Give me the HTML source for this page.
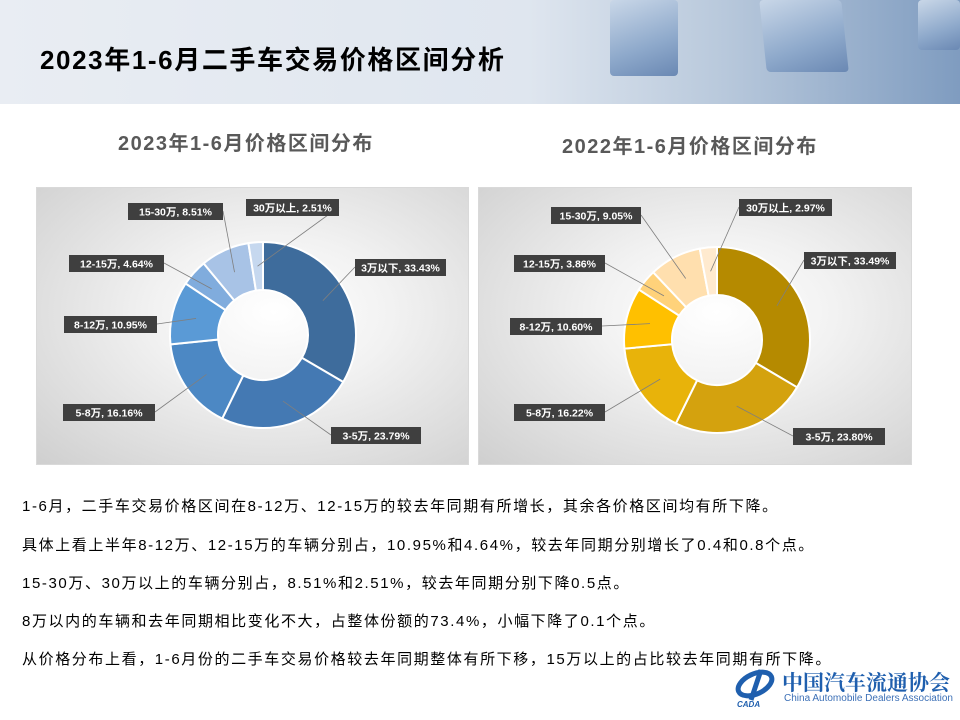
<!DOCTYPE html>
<html><head><meta charset="utf-8"><style>
body{margin:0;width:960px;height:720px;overflow:hidden;background:#fff;font-family:"Liberation Sans","Noto Sans CJK SC",sans-serif;position:relative}
.hdr{position:absolute;left:0;top:0;width:960px;height:104px;background:linear-gradient(90deg,#e9edf3 0%,#dfe6ef 55%,#b9c9dc 75%,#7f9cc0 100%)}
.cube{position:absolute;background:linear-gradient(160deg,#c9d7e8,#8ea9cb 60%,#6a88b3);border-radius:4px}
.h1{position:absolute;left:40px;top:40px;font-size:26px;letter-spacing:1.6px;font-weight:bold;color:#000}
.t{position:absolute;font-size:20px;letter-spacing:1.5px;font-weight:bold;color:#595959}
.p{position:absolute;left:22px;font-size:15px;letter-spacing:1.6px;color:#000}
.box{position:absolute;border:1px solid #d9d9d9;background:radial-gradient(ellipse at 55% 45%,#fff 0%,#f2f2f2 35%,#cfcfcf 100%)}
</style></head><body>
<div class="hdr"></div>
<div class="cube" style="left:610px;top:0;width:68px;height:76px"></div>
<div class="cube" style="left:763px;top:0;width:82px;height:72px;transform:skewX(6deg)"></div>
<div class="cube" style="left:918px;top:0;width:42px;height:50px"></div>
<div class="h1">2023年1-6月二手车交易价格区间分析</div>
<div class="t" style="left:118px;top:127px">2023年1-6月价格区间分布</div>
<div class="t" style="left:562px;top:130px">2022年1-6月价格区间分布</div>
<div class="box" style="left:36px;top:187px;width:431px;height:276px"></div>
<div class="box" style="left:478px;top:187px;width:432px;height:276px"></div>
<svg id="s" width="960" height="720" style="position:absolute;left:0;top:0"></svg>
<div class="p" style="top:495px">1-6月，二手车交易价格区间在8-12万、12-15万的较去年同期有所增长，其余各价格区间均有所下降。</div>
<div class="p" style="top:534px">具体上看上半年8-12万、12-15万的车辆分别占，10.95%和4.64%，较去年同期分别增长了0.4和0.8个点。</div>
<div class="p" style="top:572px">15-30万、30万以上的车辆分别占，8.51%和2.51%，较去年同期分别下降0.5点。</div>
<div class="p" style="top:610px">8万以内的车辆和去年同期相比变化不大，占整体份额的73.4%，小幅下降了0.1个点。</div>
<div class="p" style="top:648px">从价格分布上看，1-6月份的二手车交易价格较去年同期整体有所下移，15万以上的占比较去年同期有所下降。</div>
<svg style="position:absolute;left:733px;top:668px" width="48" height="40"><ellipse cx="22" cy="16" rx="18" ry="10" fill="none" stroke="#1f5fae" stroke-width="5" transform="rotate(-25 22 16)"/><path d="M28 2 L18 32" stroke="#1f5fae" stroke-width="5"/><text x="4" y="39" font-size="8" font-weight="bold" font-style="italic" fill="#1f5fae" font-family="Liberation Sans,sans-serif">CADA</text></svg>
<div style="position:absolute;left:782px;top:667px;font-family:'Noto Serif CJK SC',serif;font-size:21px;color:#1f5fae;font-weight:bold">中国汽车流通协会</div>
<div style="position:absolute;left:784px;top:693px;font-size:10px;color:#3b6fb6">China Automobile Dealers Association</div>
<script>
const s=document.getElementById('s');let h='';
function donut(cx,cy,R,r,vals,cols,labels){
 let a=0,tot=vals.reduce((x,y)=>x+y);
 vals.forEach((v,i)=>{let a2=a+v/tot*2*Math.PI;
  const P=(rr,t)=>[cx+rr*Math.sin(t),cy-rr*Math.cos(t)];
  let [x1,y1]=P(R,a),[x2,y2]=P(R,a2),[x3,y3]=P(r,a2),[x4,y4]=P(r,a);let L=a2-a>Math.PI?1:0;
  h+=`<path d="M${x1} ${y1}A${R} ${R} 0 ${L} 1 ${x2} ${y2}L${x3} ${y3}A${r} ${r} 0 ${L} 0 ${x4} ${y4}Z" fill="${cols[i]}" stroke="#fff" stroke-width="2"/>`;
  let m=(a+a2)/2,[px,py]=P((R+r)/2,m);let lb=labels[i];
  let lx=lb[1]<cx?lb[1]+lb[3]:lb[1],ly=lb[2]+8;
  h+=`<line x1="${px}" y1="${py}" x2="${lx}" y2="${ly}" stroke="#7f7f7f" stroke-width="0.8"/>`;
  a=a2;});
 labels.forEach(l=>{h+=`<rect x="${l[1]}" y="${l[2]}" width="${l[3]}" height="17" fill="#3f3f3f"/><text x="${l[1]+l[3]/2}" y="${l[2]+12.5}" fill="#fff" font-size="10.5" font-weight="bold" text-anchor="middle" font-family="Liberation Sans,Noto Sans CJK SC,sans-serif">${l[0]}</text>`});
}
donut(263,335,93,45,[33.43,23.79,16.16,10.95,4.64,8.51,2.51],
 ['#3e6c9c','#4479b3','#4c88c4','#5a9ad6','#80acdd','#a8c3e6','#c6d8ef'],
 [['3万以下, 33.43%',355,259,91],['3-5万, 23.79%',331,427,90],['5-8万, 16.16%',63,404,92],['8-12万, 10.95%',64,316,93],['12-15万, 4.64%',69,255,95],['15-30万, 8.51%',128,203,95],['30万以上, 2.51%',246,199,93]]);
donut(717,340,93,45,[33.49,23.80,16.22,10.60,3.86,9.05,2.97],
 ['#b58a00','#d4a20e','#e8b30a','#ffc000','#ffd27a','#ffdfae','#ffeacf'],
 [['3万以下, 33.49%',804,252,92],['3-5万, 23.80%',793,428,92],['5-8万, 16.22%',514,404,91],['8-12万, 10.60%',510,318,92],['12-15万, 3.86%',514,255,91],['15-30万, 9.05%',551,207,90],['30万以上, 2.97%',739,199,93]]);
s.innerHTML=h;
</script>
</body></html>
